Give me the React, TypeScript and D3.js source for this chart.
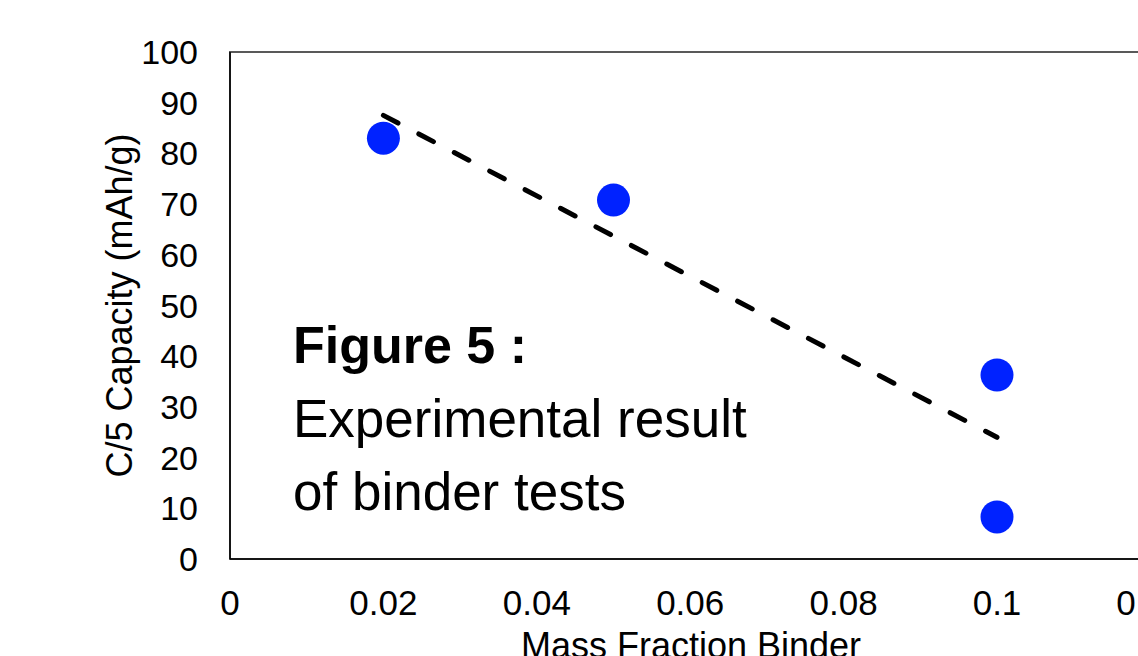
import React from "react";
import * as d3 from "d3";

const xTicks = [0, 0.02, 0.04, 0.06, 0.08, 0.1, 0.12];
const xTickLabels = ["0", "0.02", "0.04", "0.06", "0.08", "0.1", "0.12"];
const yTicks = [0, 10, 20, 30, 40, 50, 60, 70, 80, 90, 100];
const pointX = [0.02, 0.05, 0.1, 0.1];
const pointY = [83, 70.8, 36.3, 8.3];
const trendX = [0.02, 0.1];
const trendY = [87.5, 24];
const xTitle = "Mass Fraction Binder";
const yTitle = "C/5 Capacity (mAh/g)";
const noteBold = "Figure 5 :";
const noteLines = ["Experimental result", "of binder tests"];

const W = 1138;
const H = 656;
const FONT = "'Liberation Sans', Arial, Helvetica, sans-serif";

export default function App() {
  const x = d3.scaleLinear().domain([0, 0.12]).range([230, 1150.4]);
  const y = d3.scaleLinear().domain([0, 100]).range([559, 52]);
  const line = d3
    .line<number>()
    .x((_, i) => x(trendX[i]))
    .y((d) => y(d));

  return (
    <svg
      width={W}
      height={H}
      style={{ position: "absolute", left: 0, top: 0, display: "block", background: "#fff" }}
      fontFamily={FONT}
    >
      <rect
        x={x(0)}
        y={y(100)}
        width={x(0.12) - x(0)}
        height={y(0) - y(100)}
        fill="none"
        stroke="#595959"
        strokeWidth={2}
      />
      <line x1={x(0)} x2={x(0)} y1={y(100)} y2={y(0)} stroke="#000" strokeWidth={1.5} />
      <line x1={x(0)} x2={x(0.12)} y1={y(0)} y2={y(0)} stroke="#000" strokeWidth={1.5} />

      {yTicks.map((t) => (
        <text
          key={"y" + t}
          x={198}
          y={y(t)}
          textAnchor="end"
          dominantBaseline="central"
          fontSize={34}
          fill="#000"
        >
          {t}
        </text>
      ))}
      {xTicks.map((t, i) => (
        <text key={"x" + t} x={x(t)} y={615} textAnchor="middle" fontSize={35} fill="#000">
          {xTickLabels[i]}
        </text>
      ))}

      <text
        transform={`translate(132, ${(y(0) + y(100)) / 2}) rotate(-90)`}
        textAnchor="middle"
        fontSize={36}
        fill="#000"
      >
        {yTitle}
      </text>
      <text x={691} y={658} textAnchor="middle" fontSize={36} fill="#000">
        {xTitle}
      </text>

      <path
        d={line(trendY) || ""}
        fill="none"
        stroke="#000"
        strokeWidth={5}
        strokeDasharray="16.5,23.5"
        strokeLinecap="round"
      />

      {pointX.map((px, i) => (
        <circle key={"p" + i} cx={x(px)} cy={y(pointY[i])} r={16.5} fill="#0022ff" />
      ))}

      <text x={293} y={363} fontSize={52} fontWeight="bold" fill="#000">
        {noteBold}
      </text>
      {noteLines.map((l, i) => (
        <text key={"n" + i} x={293} y={437 + i * 73} fontSize={53} fill="#000">
          {l}
        </text>
      ))}
    </svg>
  );
}
